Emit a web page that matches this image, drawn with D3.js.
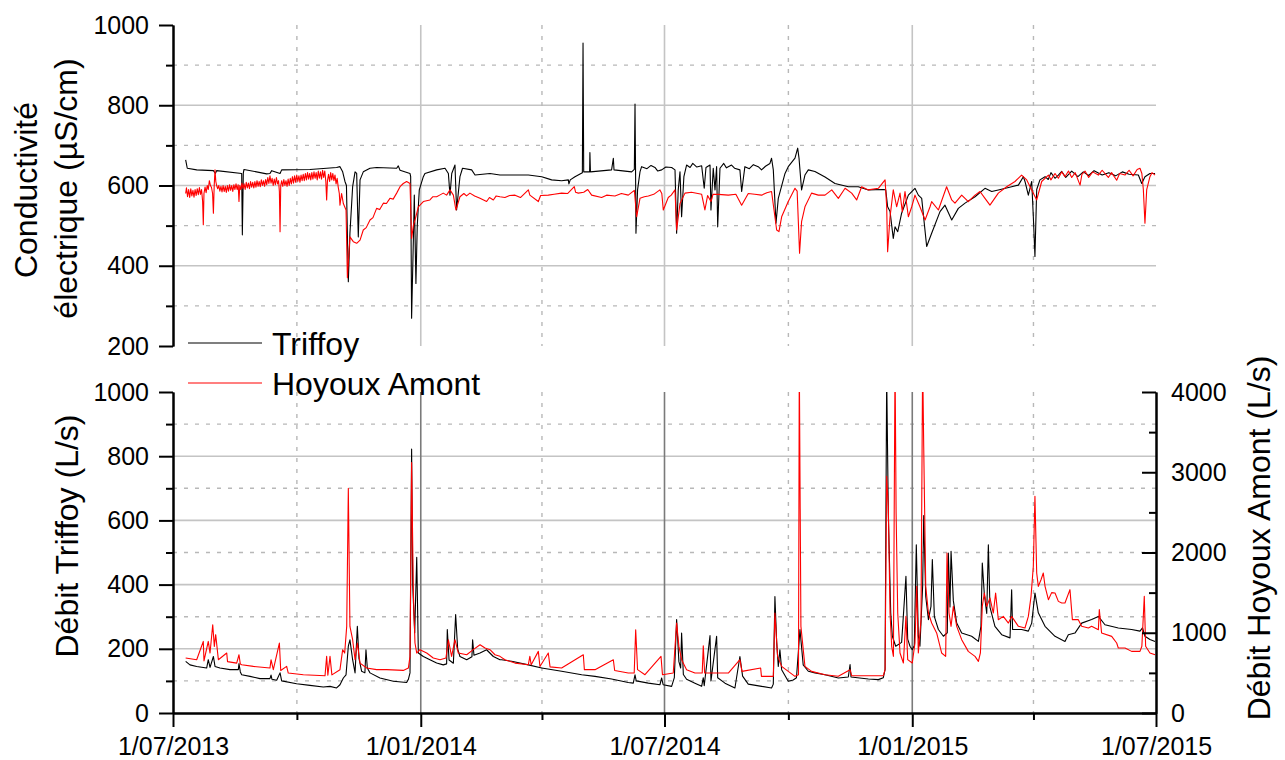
<!DOCTYPE html>
<html><head><meta charset="utf-8">
<script src="https://cdn.jsdelivr.net/npm/d3@7"></script>
<style>
body{margin:0;background:#fff;}
svg{display:block;font-family:"Liberation Sans",Arial,sans-serif;}
</style></head><body>
<svg id="chart" width="1285" height="760"></svg>
<script>
// ---------- data ----------
const startDate = "2013-07-01";
const endDate = "2015-07-01";
const xTickDates = ["2013-07-01","2014-01-01","2014-07-01","2015-01-01","2015-07-01"];
const xTickLabels = ["1/07/2013","1/01/2014","1/07/2014","1/01/2015","1/07/2015"];
const xMinorDates = ["2013-10-01","2014-04-01","2014-10-01","2015-04-01"];
const condTicks = [200,400,600,800,1000];
const condMinor = [300,500,700,900];
const flowTicks = [0,200,400,600,800,1000];
const flowMinor = [100,300,500,700,900];
const hoyTicks = [0,1000,2000,3000,4000];
const hoyMinor = [500,1500,2500,3500];
const seriesNames = ["Triffoy","Hoyoux Amont"];

// [days since 1/07/2013, µS/cm]
const condTriffoy = [[9.4,664],[10.6,643],[17.6,639],[30,637],[31.5,630],[32.4,637],[51,630],[51.5,477],[52.2,630],[52.7,640],[69.5,629],[72,630],[73.3,637],[79.5,630],[80.7,639],[101.7,640],[121.5,645],[124,647],[126,634],[127.7,610],[128.8,600],[130.2,360],[131.4,481],[133.4,597],[135.2,634],[136.4,630],[137.6,472],[138.9,614],[141.3,634],[146.3,643],[151.2,645],[166.1,643],[167.3,649],[168.6,638],[176,630],[176.5,622],[177.2,269],[178.5,464],[179.2,576],[180.4,356],[181.4,500],[182.9,589],[185.9,622],[187.1,630],[195.8,639],[202,643],[204.5,630],[205.7,576],[207,630],[209.4,651],[210.6,539],[213.1,622],[215,643],[221.8,639],[224.3,626],[235.4,630],[242.8,626],
[251.5,626],[263.9,626],[273.8,622],[281.2,614],[288.6,612],[293.6,614],[294,604],[295,614],[298.5,622],[304,632],[304.5,955],[305,634],[305.9,634],[309.4,634],[309.6,682],[310,634],[325.7,639],[327,668],[327.5,639],[340.6,634],[342.6,640],[343.1,803],[343.5,640],[343.8,481],[345,589],[346.8,634],[348,647],[352,642],[355,650],[357.9,645],[360,636],[362.9,639],[366,646],[370.3,645],[372.8,639],[374,481],[375.2,589],[376.5,634],[377.7,522],[379.4,622],[381.4,651],[384,645],[386,655],[389,646],[392.6,649],[394.5,593],[395.8,645],[398.8,651],[399.5,539],[401.2,643],[402.5,589],[403.7,647],[404.5,497],[406.2,643],[409,655],[411,644],[414.8,651],[417,643],[421,639],[422.3,585],[424.7,647],[428,642],[431,652],[434.6,647],[437.1,639],[440,648],[443.3,655],[444.5,668],[445.8,639],[447.8,506],[449.5,568],[454.5,630],[456.9,647],[461.9,668],[463.9,693],[464.9,668],[466.8,589],[469.3,626],[471.8,639],[476.7,635],[484.2,621],
[491.6,605],[501.5,597],[508.9,597],[516.4,589],[527.5,590],[529.3,589],[530.7,547],[532.5,535],[534.9,468],[536.2,497],[538.2,485],[541.1,531],[546.1,576],[551,593],[553.5,576],[556,568],[559.7,448],[563.4,481],[569.6,535],[573.3,551],[578.3,514],[583.2,543],[588.2,556],[595.6,572],[603,593],[608,585],[612.9,589],[622.8,597],[627.8,601],[631.5,622],[632.7,610],[635.2,576],[637.7,610],[638.9,522],[640.1,423],[641.4,590],[643.8,614],[647.6,622],[650,615],[652,632],[655,618],[657.5,626],[660,635],[663,620],[667.4,636],[672,622],[676,634],[680,625],[684,637],[690,626],[695,632],[700,624],[705,634],[710,628],[716.9,626],[719.4,605],[721.8,622],[725.5,630],[729.3,630]];

const condHoyoux = [[9.4,580],[10,594],[10.8,572],[11.6,590],[12.4,570],[13.2,592],[14,574],[14.8,588],[15.6,571],[16.4,590],[17.2,575],[18,592],[18.8,577],[19.6,595],[20.4,578],[21.2,590],[22,560],[22.5,502],[23,580],[23.8,596],[24.6,582],[25.4,600],[26.2,590],[27,612],[27.8,600],[28.6,595],[29.4,580],[30,531],[30.6,600],[31.2,639],[31.8,610],[32.4,600],[33.2,592],[34,600],[34.8,586],[35.6,598],[36.4,584],[37.2,600],[38,585],[38.8,598],[39.6,583],[40.4,600],[41.2,586],[42,602],[42.8,588],[43.6,600],[44.4,585],[45.2,602],[46,590],[46.8,604],[47.6,590],[48.4,602],[49,560],[49.6,600],[50.4,590],[51.2,606],[52,592],[52.8,604],[53.6,590],[54.4,608],[55.2,594],[56,606],[56.8,592],[57.6,610],[58.4,596],[59.2,608],[60,594],[60.8,610],[61.6,596],[62.4,612],[63.2,598],[64,610],[64.8,597],[65.6,614],[66.4,600],[67.2,612],[68,598],[68.8,615],[69.6,602],[70.4,620],[71.2,605],[72,624],[72.8,606],[73.6,618],[74.4,600],[75.2,616],[76,602],[76.8,620],[77.6,604],[78.4,612],[79,585],[79.5,485],[80,600],[80.7,612],[81.5,598],[82.3,615],[83.1,600],[83.9,612],[84.7,598],[85.5,616],[86.3,600],[87.1,618],[87.9,604],[88.7,622],[89.5,606],[90.3,624],[91.1,608],[91.9,626],[92.7,610],[93.5,624],[94.3,608],[95.1,626],[95.9,612],[96.7,628],[97.5,612],[98.3,630],[99.1,614],[99.9,632],[100.7,616],[101.5,630],[102.3,614],[103.1,632],[103.9,616],[104.7,634],[105.5,618],[106.3,632],[107.1,614],[107.9,636],[108.7,618],[109.5,634],[110.3,616],[111.1,638],[111.9,620],[112.7,636],[113.5,610],[114.1,564],[114.7,612],[115.5,628],[116.3,610],[117.1,632],[117.9,614],[118.7,630],[119.5,612],[120.3,626],[121.1,604],[121.9,618],[122.7,596],[123.5,580],[124,551],[125.2,580],[126.5,555],[128.5,539],[129.5,370],[131.4,472],[133.9,460],[136.4,456],[138.9,464],[141.3,489],[143.5,495],[146.3,514],[148.5,520],[151.2,543],[153.5,540],[156.2,556],[158.5,555],[161.1,568],[163.5,566],[166.1,581],[168.6,597],[171,605],[173.5,610],[176,605],[177.2,468],[178.5,500],[180.2,520],[182.2,547],[185.9,560],[190.8,564],[193,572],[195.8,572],[198,576],[200.7,581],[203.2,576],[205.7,589],[208.2,576],[210.1,539],[213.1,572],[216,580],[218,574],[220.5,581],[224,574],[228,568],[232.9,560],[235,570],[237.9,564],[240,574],[242.8,572],
[246.5,570],[250,575],[254,576],[258,570],[263.9,589],[265,576],[271.3,560],[273,575],[278.7,576],[283,578],[288.6,581],[293,580],[298,597],[299,583],[301,581],[305,583],[308,590],[310.9,576],[318.3,570],[322,576],[328.2,574],[333,580],[338.1,576],[342.6,588],[344.3,522],[346.8,568],[350,572],[353,574],[357,578],[361.6,589],[363,580],[364.1,539],[367.8,570],[370,576],[372.8,589],[374,489],[376.5,555],[380.2,581],[385,583],[392.6,578],[395,539],[397,575],[399.5,560],[401,578],[405,578],[412.4,576],[418,578],[422.3,551],[427.2,580],[432,578],[437.1,576],[441,582],[444.5,585],[448.3,489],[450,485],[452,522],[456.9,560],[461.9,593],[463.5,586],[465.3,431],[466.8,510],[469.3,547],[474.2,581],[479.2,576],[484.2,576],
[489.2,589],[494.1,568],[499.1,593],[504,581],[507.7,564],[511.4,597],[516.4,589],[523.8,593],[528.8,614],[530,547],[530.7,435],[532.5,522],[534.9,589],[537.4,547],[539.9,581],[541.6,535],[543.6,585],[546.1,522],[548.6,547],[551,576],[554.7,547],[558.5,514],[562.2,547],[563.4,560],[568.4,539],[574.5,597],[578.3,564],[580.7,556],[585.7,576],[590.6,560],[595.6,576],[599.3,585],[603,568],[606.7,551],[612.9,581],[619.1,597],[625.3,610],[630.2,626],[634,614],[637.7,589],[641.4,564],[645.1,610],[650.1,626],[652,614],[655,630],[657.5,618],[660,634],[662.4,622],[665,636],[667.4,620],[670,632],[673.6,601],[675,628],[677.3,636],[680,620],[683,634],[687.2,626],[690,638],[694.6,620],[697,632],[700.8,613],[703,630],[707,626],[710,638],[713,624],[716,640],[718.1,643],[719.5,630],[720.6,590],[721.8,506],[723.1,590],[725.5,622],[727,632],[729.3,626]];

// [days, L/s]  (left axis)
const flowTriffoy = [[9.4,161],[12.6,150],[17.6,145],[25,140],[26.2,166],[27.5,142],[30,176],[31.2,145],[34.9,140],[42.3,135],[48.5,135],[49,154],[50,128],[51,119],[57.2,114],[64.6,107],[72,107],[72.8,118],[73.5,105],[77,102],[79.5,125],[80.7,100],[91.8,91],[101.7,86],[111.6,81],[116.6,83],[121.5,78],[124,88],[126.5,109],[128.5,119],[130.2,208],[131.4,228],[133.4,166],[135.2,125],[136.9,270],[138.1,170],[140.1,130],[142.5,125],[143.3,197],[144.3,140],[146.3,125],[153.7,109],[163.6,99],[173.5,95],[174.8,105],[176,125],[177.2,822],[178,400],[179.5,250],[181,485],[182.2,187],[185.9,176],[190.8,166],[195.8,156],[200.7,150],[203.2,153],[203.7,260],[205,165],[208.2,155],[209.9,307],[211.4,200],[213.1,176],[218.1,166],[222,175],[222.5,228],[223.5,180],[228,187],[232.9,197],[237.9,176],[242.8,166],
[244,166],[251.5,161],[263.9,150],[273.8,140],[288.6,130],[303.5,119],[313.4,114],[325.7,106],[338.1,95],[341.8,93],[343.1,119],[344,100],[353,93],[361.6,88],[362.9,109],[364,88],[370.3,83],[372.3,110],[374,291],[375.7,160],[377,140],[377.7,249],[379,120],[381.4,105],[387.6,93],[392.6,83],[393.8,110],[394.5,85],[398.8,241],[399.5,100],[403.7,239],[404.5,110],[409.9,93],[417.3,78],[421,176],[423,115],[427.2,90],[437.1,83],[444.5,78],[445.8,90],[447,363],[448.3,220],[449.5,145],[450.7,197],[452,135],[456.9,99],[460.6,103],[463,110],[465.6,260],[468,150],[471.8,130],[476.7,125],[484.2,119],
[494.1,109],[501.5,112],[502.8,151],[503.5,112],[516.4,106],[523.8,104],[527.5,110],[528.8,135],[530,1050],[531.2,623],[533,312],[534.2,239],[536.7,208],[541.1,220],[544.3,426],[545.6,230],[547.3,208],[549,197],[550.5,210],[552,524],[553.5,240],[554.7,208],[556.7,395],[557.5,615],[559,363],[561,291],[562.9,332],[563.9,478],[565.4,300],[568.4,260],[572.1,239],[575,250],[575.8,498],[577,330],[577.8,504],[579.5,350],[582,280],[585.7,249],[593.1,239],[598.1,223],[600,270],[601,467],[602.5,370],[604.3,310],[605.5,524],[606.7,330],[610.4,270],[615.4,244],[621.6,234],[622.8,384],[623.5,260],[630.2,260],[635.2,255],[637.7,280],[640.1,374],[642.6,312],[647.6,270],[655,239],[662.4,223],[664.9,244],[669.8,249],[674.8,280],[682.2,291],[687.2,301],[692.1,275],[702,265],[711.9,260],[718.1,255],[720,265],[721.8,239],[725.5,229],[729.3,223]];

// [days, L/s]  (right axis)
const flowHoyoux = [[9.4,685],[17.6,664],[22.5,892],[23,650],[26.2,892],[27.5,747],[29.5,1100],[30.7,830],[31.7,976],[33.7,664],[39.9,747],[40.5,640],[47.3,622],[49,726],[50,610],[51,602],[59.7,581],[72,560],[72.8,664],[74.5,540],[79,872],[80,530],[84.4,581],[85.6,498],[96.8,477],[112.9,465],[114.1,706],[115,470],[116.6,706],[118,475],[124,540],[126,789],[127.5,747],[129,1079],[130.2,2800],[131.4,1079],[133.4,913],[135.2,664],[136.9,872],[138.9,622],[143.8,560],[151.2,540],[158.7,540],[171,531],[174.8,560],[176,706],[177.2,3120],[178.5,1495],[179.7,872],[181,747],[183.4,789],[188.4,747],[193.3,685],[198.3,664],[202.7,685],[204.5,913],[206.9,706],[209.4,913],[211.9,747],[218.1,726],[223,789],[228,851],[231.7,809],[235.4,789],[239.1,726],[242.8,706],
[246.5,664],[254,622],[263.9,602],[265,706],[266,600],[271.3,768],[272.5,580],[278.7,747],[280,575],[288.6,560],[304.7,726],[305.5,540],[313.4,540],[327,664],[328,530],[338.1,498],[342.5,498],[343.6,1038],[345,540],[350.5,477],[362.4,706],[363.5,477],[371.5,498],[374,1121],[375.7,830],[377.7,664],[381.4,540],[387.6,498],[393,498],[393.8,838],[394.8,498],[412.4,498],[421,664],[422.5,519],[436.4,560],[437,457],[445.8,457],[447,1246],[449,706],[452,581],[456.9,519],[461.9,457],[464.5,477],[465.1,4400],[466.3,1079],[469.3,581],[474.2,519],[484.2,477],
[494.1,457],[502.8,540],[504,465],[516.4,465],[527.5,465],[528.8,540],[530,2949],[531.2,2575],[532.5,1246],[533.7,831],[535,706],[536.2,4400],[537,2492],[538.2,1246],[539.9,748],[542.4,623],[544.3,1204],[545.6,665],[549,623],[551,872],[552.3,1578],[553.5,748],[555.5,1163],[556.7,4400],[557.5,3322],[559,1578],[561,1246],[563.4,1121],[567.1,997],[570.8,748],[573.8,706],[574.8,1994],[576.3,1246],[577.8,1080],[579.5,1329],[582,1080],[585.7,914],[590.6,768],[595.6,706],[598.1,644],[599.6,748],[601,1329],[602.5,1495],[604.3,1329],[606.7,1433],[609.2,1246],[610.9,1495],[612.9,1163],[616.6,1204],[620.4,1121],[622.8,1204],[627.8,1080],[632.7,1059],[635.2,1204],[637.2,1454],[638.9,1828],[640.1,2700],[641.4,1744],[642.6,1578],[644.6,1661],[646.3,1744],[647.6,1578],[650.1,1412],[652.5,1500],[655,1495],[657.5,1391],[660,1370],[662.4,1370],[666.1,1537],[667.9,1163],[672.3,1163],[674.8,1080],[679.8,1059],[682.2,1080],[687.2,1038],[687.9,1288],[689.6,997],[697.1,955],[700.8,872],[702,810],[707,810],[711.9,768],[718.1,768],[719.5,831],[721.3,1454],[722.3,831],[725.5,748],[729.3,727]];

// ---------- drawing ----------
const parse = d3.timeParse("%Y-%m-%d");
const t0 = parse(startDate);
const toDate = d => new Date(t0.getTime() + d * 86400000);

const svg = d3.select("#chart");
const x = d3.scaleTime().domain([parse(startDate), parse(endDate)]).range([173, 1156]);
const yC = d3.scaleLinear().domain([200, 1000]).range([346, 25]);
const yF = d3.scaleLinear().domain([0, 1000]).range([713, 392]);
const yH = d3.scaleLinear().domain([0, 4000]).range([713, 392]);

const majorMid = xTickDates.slice(1, -1).map(parse);
const minorD = xMinorDates.map(parse);
const fontTick = "25px";
const fontTitle = "32px";
const gridSolid = "#c4c4c4", gridDot = "#b8b8b8";

function grid(g, yScale, solidVals, dotVals, y0, y1, vColor) {
  g.selectAll(null).data(solidVals).join("line")
    .attr("x1", x.range()[0]).attr("x2", x.range()[1])
    .attr("y1", d => yScale(d)).attr("y2", d => yScale(d))
    .attr("stroke", gridSolid).attr("stroke-width", 1.6);
  g.selectAll(null).data(dotVals).join("line")
    .attr("x1", x.range()[0]).attr("x2", x.range()[1])
    .attr("y1", d => yScale(d)).attr("y2", d => yScale(d))
    .attr("stroke", gridDot).attr("stroke-width", 1.4).attr("stroke-dasharray", "4,7");
  g.selectAll(null).data(majorMid).join("line")
    .attr("x1", d => x(d)).attr("x2", d => x(d))
    .attr("y1", y0).attr("y2", y1)
    .attr("stroke", vColor).attr("stroke-width", 1.6);
  g.selectAll(null).data(minorD).join("line")
    .attr("x1", d => x(d)).attr("x2", d => x(d))
    .attr("y1", y0).attr("y2", y1)
    .attr("stroke", gridDot).attr("stroke-width", 1.4).attr("stroke-dasharray", "4,7");
}

grid(svg.append("g"), yC, [400, 600, 800], condMinor, yC(1000), yC(200), gridSolid);
grid(svg.append("g"), yF, [200, 400, 600, 800], flowMinor, yF(1000), yF(0), "#7a7a7a");

const defs = svg.append("defs");
defs.append("clipPath").attr("id", "clipTop").append("rect")
  .attr("x", x.range()[0]).attr("y", yC(1000)).attr("width", x.range()[1] - x.range()[0]).attr("height", yC(200) - yC(1000));
defs.append("clipPath").attr("id", "clipBot").append("rect")
  .attr("x", x.range()[0]).attr("y", yF(1000)).attr("width", x.range()[1] - x.range()[0]).attr("height", yF(0) - yF(1000));

const lineC = d3.line().x(d => x(toDate(d[0]))).y(d => yC(d[1]));
const lineF = d3.line().x(d => x(toDate(d[0]))).y(d => yF(d[1]));
const lineH = d3.line().x(d => x(toDate(d[0]))).y(d => yH(d[1]));

const gTop = svg.append("g").attr("clip-path", "url(#clipTop)");
gTop.append("path").attr("d", lineC(condTriffoy)).attr("fill", "none").attr("stroke", "#000").attr("stroke-width", 1.1).attr("stroke-linejoin", "round");
gTop.append("path").attr("d", lineC(condHoyoux)).attr("fill", "none").attr("stroke", "#ff0000").attr("stroke-width", 1.1).attr("stroke-linejoin", "round");

const gBot = svg.append("g").attr("clip-path", "url(#clipBot)");
gBot.append("path").attr("d", lineF(flowTriffoy)).attr("fill", "none").attr("stroke", "#000").attr("stroke-width", 1.1).attr("stroke-linejoin", "round");
gBot.append("path").attr("d", lineH(flowHoyoux)).attr("fill", "none").attr("stroke", "#ff0000").attr("stroke-width", 1.1).attr("stroke-linejoin", "round");

function styleAxis(g) {
  g.select(".domain").attr("stroke", "#000").attr("stroke-width", 2);
  g.selectAll(".tick line").attr("stroke", "#000").attr("stroke-width", 2);
  g.selectAll(".tick text").attr("fill", "#000").style("font-size", fontTick).style("font-family", "'Liberation Sans', Arial, sans-serif");
}
svg.append("g").attr("transform", `translate(${x.range()[0]},0)`)
  .call(d3.axisLeft(yC).tickValues(condMinor).tickSize(7).tickSizeOuter(0).tickFormat(""))
  .call(styleAxis);
svg.append("g").attr("transform", `translate(${x.range()[0]},0)`)
  .call(d3.axisLeft(yC).tickValues(condTicks).tickSize(14).tickSizeOuter(0).tickPadding(10).tickFormat(d3.format("d")))
  .call(styleAxis);
svg.append("g").attr("transform", `translate(${x.range()[0]},0)`)
  .call(d3.axisLeft(yF).tickValues(flowMinor).tickSize(7).tickSizeOuter(0).tickFormat(""))
  .call(styleAxis);
svg.append("g").attr("transform", `translate(${x.range()[0]},0)`)
  .call(d3.axisLeft(yF).tickValues(flowTicks).tickSize(14).tickSizeOuter(0).tickPadding(10).tickFormat(d3.format("d")))
  .call(styleAxis);
svg.append("g").attr("transform", `translate(${x.range()[1]},0)`)
  .call(d3.axisRight(yH).tickValues(hoyMinor).tickSize(-7).tickSizeOuter(0).tickFormat(""))
  .call(styleAxis);
svg.append("g").attr("transform", `translate(${x.range()[1]},0)`)
  .call(d3.axisRight(yH).tickValues(hoyTicks).tickSize(-14).tickSizeOuter(0).tickPadding(15).tickFormat(d3.format("d")))
  .call(styleAxis);
svg.append("g").attr("transform", `translate(0,${yF(0)})`)
  .call(d3.axisBottom(x).tickValues(minorD).tickSize(7).tickSizeOuter(0).tickFormat(""))
  .call(styleAxis);
svg.append("g").attr("transform", `translate(0,${yF(0)})`)
  .call(d3.axisBottom(x).tickValues(xTickDates.map(parse)).tickSize(14).tickSizeOuter(0).tickPadding(10)
    .tickFormat((d, i) => xTickLabels[i]))
  .call(styleAxis);

function vtitle(txt, tx, ty) {
  svg.append("text").attr("transform", `translate(${tx},${ty}) rotate(-90)`)
    .attr("text-anchor", "middle").style("font-size", fontTitle).attr("fill", "#000").text(txt);
}
vtitle("Conductivité", 37, 190);
vtitle("électrique (µS/cm)", 77, 188.5);
vtitle("Débit Triffoy (L/s)", 78, 536);
vtitle("Débit Hoyoux Amont (L/s)", 1270, 538);

const legendColors = ["#000", "#ff0000"];
const legendY = [343, 383];
const lg = svg.append("g");
seriesNames.forEach((n, i) => {
  lg.append("line").attr("x1", 188).attr("x2", 262).attr("y1", legendY[i]).attr("y2", legendY[i])
    .attr("stroke", legendColors[i]).attr("stroke-width", 1.2);
  lg.append("text").attr("x", 272).attr("y", legendY[i] + 12).style("font-size", fontTitle).attr("fill", "#000").text(n);
});
</script>
</body></html>
